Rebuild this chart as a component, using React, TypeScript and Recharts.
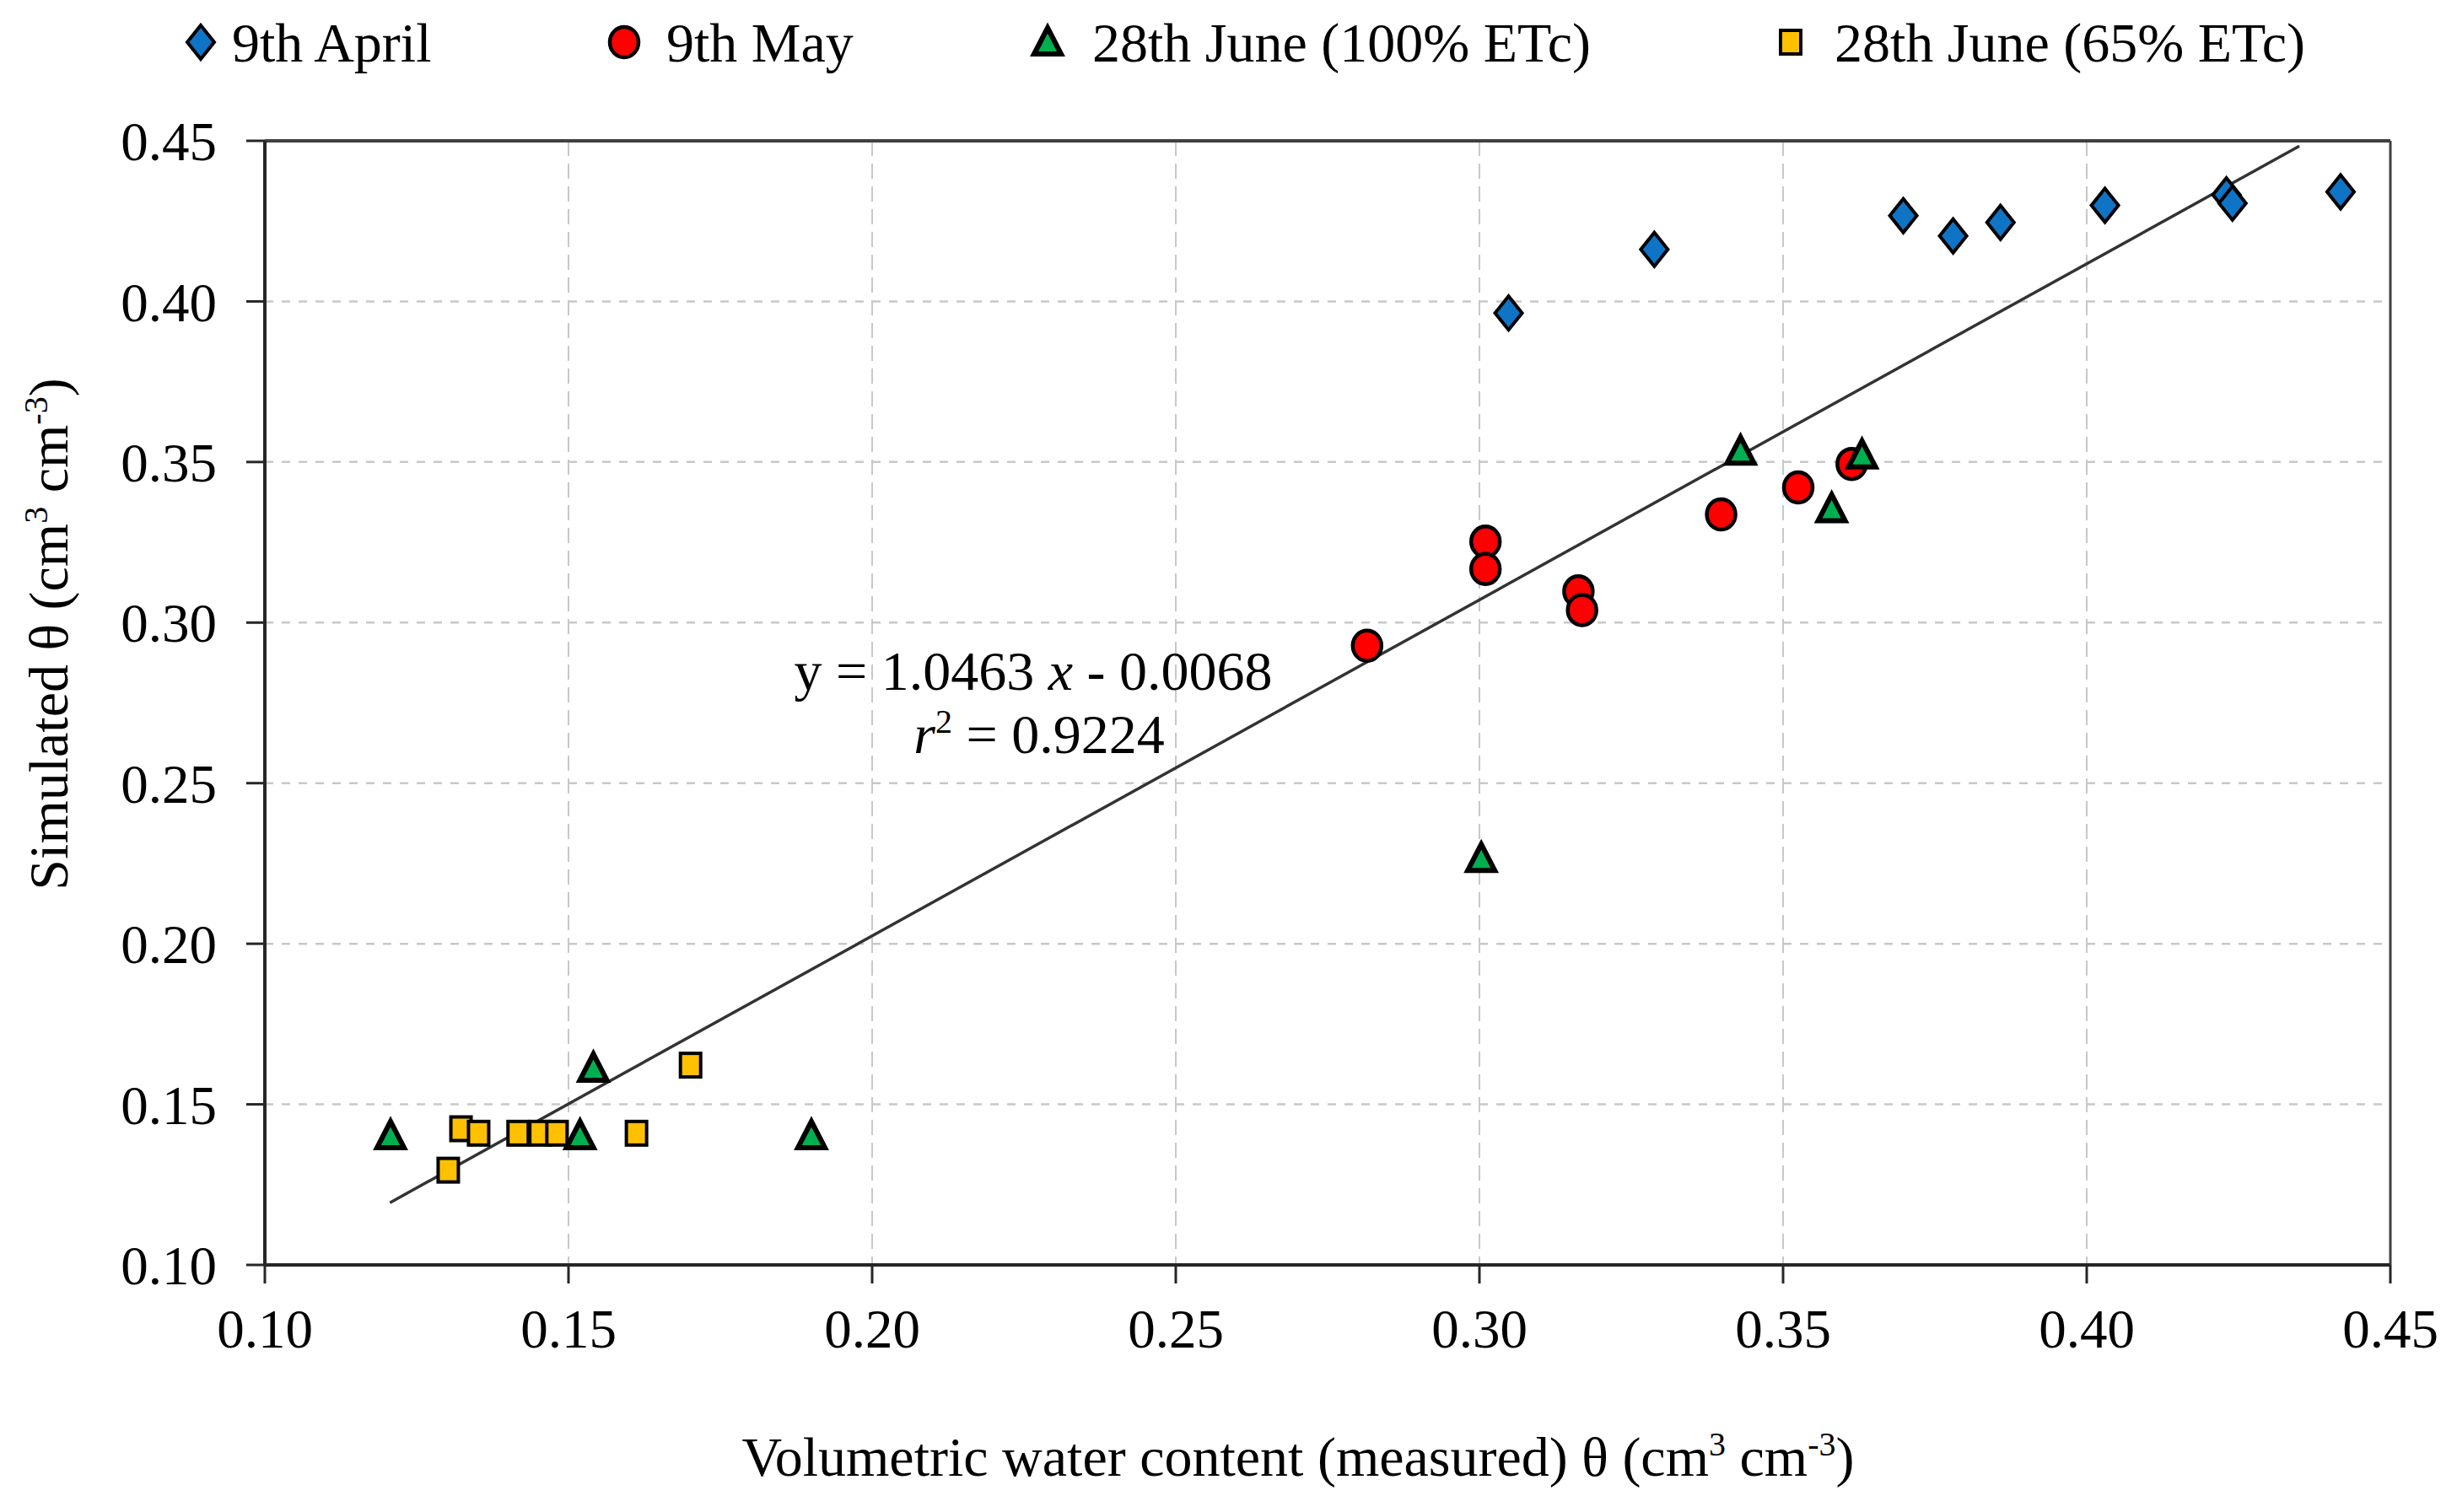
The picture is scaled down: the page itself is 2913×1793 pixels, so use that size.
import {
  ScatterChart,
  Scatter,
  XAxis,
  YAxis,
  CartesianGrid,
  ReferenceLine,
  Customized,
} from "recharts";

// 9th April
const APRIL_X = [0.3048, 0.3288, 0.3698, 0.378, 0.3858, 0.403, 0.423, 0.424, 0.4418];
const APRIL_Y = [0.3964, 0.4162, 0.4267, 0.4204, 0.4246, 0.4299, 0.4332, 0.4306, 0.4341];

// 9th May
const MAY_X = [0.2815, 0.301, 0.301, 0.3163, 0.3169, 0.3398, 0.3525, 0.3613];
const MAY_Y = [0.2928, 0.3252, 0.3167, 0.3097, 0.3039, 0.3337, 0.3421, 0.3494];

// 28th June (100% ETc)
const JUNE100_X = [0.1207, 0.1541, 0.1519, 0.19, 0.3003, 0.343, 0.358, 0.363];
const JUNE100_Y = [0.1402, 0.1612, 0.1402, 0.1402, 0.2265, 0.3533, 0.3354, 0.3521];

// 28th June (65% ETc)
const JUNE65_X = [0.1302, 0.1323, 0.1352, 0.1417, 0.1453, 0.1481, 0.1612, 0.1701];
const JUNE65_Y = [0.1295, 0.1424, 0.141, 0.141, 0.141, 0.141, 0.141, 0.1622];

const TICKS = [0.1, 0.15, 0.2, 0.25, 0.3, 0.35, 0.4, 0.45];

// fitted line, as printed on the chart
const SLOPE = 1.0463;
const INTERCEPT = -0.0068;
const R2 = 0.9224;
const TREND_X = [0.1206, 0.435];

const FONT = "'Liberation Serif', 'Times New Roman', serif";
const AXIS = "#262626";

const COLORS = {
  april: "#0F74C6",
  may: "#FF0000",
  june100: "#00B050",
  june65: "#FFC000",
};

const toPoints = (xs: number[], ys: number[]) => xs.map((x, i) => ({ x, y: ys[i] }));

const diamond = (cx: number, cy: number, fill: string) => (
  <path
    d={`M${cx},${cy - 20} L${cx + 16},${cy} L${cx},${cy + 20} L${cx - 16},${cy} Z`}
    fill={fill}
    stroke="#000"
    strokeWidth={4}
    strokeLinejoin="miter"
  />
);
const circle = (cx: number, cy: number, fill: string) => (
  <ellipse cx={cx} cy={cy} rx={17} ry={18} fill={fill} stroke="#000" strokeWidth={4.5} />
);
const triangle = (cx: number, cy: number, fill: string) => (
  <path
    d={`M${cx},${cy - 17} L${cx + 16},${cy + 14} L${cx - 16},${cy + 14} Z`}
    fill={fill}
    stroke="#000"
    strokeWidth={6}
    strokeLinejoin="miter"
  />
);
const square = (cx: number, cy: number, fill: string) => (
  <rect x={cx - 12} y={cy - 14} width={24} height={28} fill={fill} stroke="#000" strokeWidth={4} />
);

const makeShape = (draw: typeof circle, fill: string) => (props: any) =>
  draw(props.cx, props.cy, fill);

const LEGEND = [
  { name: "9th April", draw: diamond, fill: COLORS.april, mx: 230, tx: 267 },
  { name: "9th May", draw: circle, fill: COLORS.may, mx: 732, tx: 782 },
  { name: "28th June (100% ETc)", draw: triangle, fill: COLORS.june100, mx: 1234, tx: 1287 },
  { name: "28th June (65% ETc)", draw: square, fill: COLORS.june65, mx: 2115, tx: 2167 },
];

function Annotations() {
  return (
    <g fontFamily={FONT} fill="#000">
      {LEGEND.map(item => (
        <g key={item.name}>
          {item.draw(item.mx, 42, item.fill)}
          <text x={item.tx} y={65} fontSize={66}>
            {item.name}
          </text>
        </g>
      ))}

      <text x={1217} y={810} fontSize={66} textAnchor="middle">
        <tspan>{`y = ${SLOPE.toFixed(4)} `}</tspan>
        <tspan fontStyle="italic">x</tspan>
        <tspan>{` - ${Math.abs(INTERCEPT).toFixed(4)}`}</tspan>
      </text>
      <text x={1224} y={885} fontSize={66} textAnchor="middle">
        <tspan fontStyle="italic">r</tspan>
        <tspan dy={-24} fontSize={40}>2</tspan>
        <tspan dy={24}>{` = ${R2.toFixed(4)}`}</tspan>
      </text>

      <text x={1531} y={1742} fontSize={66} textAnchor="middle">
        <tspan>Volumetric water content (measured) θ (cm</tspan>
        <tspan dy={-24} fontSize={40}>3</tspan>
        <tspan dy={24}> cm</tspan>
        <tspan dy={-24} fontSize={40}>-3</tspan>
        <tspan dy={24}>)</tspan>
      </text>

      <text x={72} y={744} fontSize={66} textAnchor="middle" transform="rotate(-90, 72, 744)">
        <tspan>Simulated θ (cm</tspan>
        <tspan dy={-24} fontSize={40}>3</tspan>
        <tspan dy={24}> cm</tspan>
        <tspan dy={-24} fontSize={40}>-3</tspan>
        <tspan dy={24}>)</tspan>
      </text>
    </g>
  );
}

export default function App() {
  const trendStart = { x: TREND_X[0], y: SLOPE * TREND_X[0] + INTERCEPT };
  const trendEnd = { x: TREND_X[1], y: SLOPE * TREND_X[1] + INTERCEPT };
  const tickStyle = { fill: "#000", fontSize: 65, fontFamily: FONT };

  return (
    <ScatterChart
      width={2897}
      height={1777}
      margin={{ top: 159, right: 71, bottom: 85, left: 46 }}
      style={{ background: "#fff" }}
    >
      <CartesianGrid horizontal={false} stroke="#c8c8c8" strokeWidth={2} strokeDasharray="18 9" />
      <CartesianGrid vertical={false} stroke="#c8c8c8" strokeWidth={2.5} strokeDasharray="10 10" />
      <XAxis
        type="number"
        dataKey="x"
        domain={[0.1, 0.45]}
        ticks={TICKS}
        tickFormatter={(v: number) => v.toFixed(2)}
        height={200}
        tickSize={22}
        tickMargin={30}
        tick={tickStyle}
        axisLine={{ stroke: AXIS, strokeWidth: 4 }}
        tickLine={{ stroke: AXIS, strokeWidth: 3 }}
        allowDataOverflow
      />
      <YAxis
        type="number"
        dataKey="y"
        domain={[0.1, 0.45]}
        ticks={TICKS}
        tickFormatter={(v: number) => v.toFixed(2)}
        width={260}
        tickSize={22}
        tickMargin={35}
        tick={tickStyle}
        axisLine={{ stroke: AXIS, strokeWidth: 4 }}
        tickLine={{ stroke: AXIS, strokeWidth: 3 }}
        allowDataOverflow
      />
      <ReferenceLine y={0.45} stroke="#404040" strokeWidth={4} />
      <ReferenceLine x={0.45} stroke="#404040" strokeWidth={3} />

      <Scatter
        name="9th April"
        data={toPoints(APRIL_X, APRIL_Y)}
        shape={makeShape(diamond, COLORS.april)}
        isAnimationActive={false}
      />
      <Scatter
        name="9th May"
        data={toPoints(MAY_X, MAY_Y)}
        shape={makeShape(circle, COLORS.may)}
        isAnimationActive={false}
      />
      <Scatter
        name="28th June (100% ETc)"
        data={toPoints(JUNE100_X, JUNE100_Y)}
        shape={makeShape(triangle, COLORS.june100)}
        isAnimationActive={false}
      />
      <Scatter
        name="28th June (65% ETc)"
        data={toPoints(JUNE65_X, JUNE65_Y)}
        shape={makeShape(square, COLORS.june65)}
        isAnimationActive={false}
      />

      <ReferenceLine
        segment={[trendStart, trendEnd]}
        stroke="#333"
        strokeWidth={3.5}
        ifOverflow="visible"
      />

      <Customized component={Annotations} />
    </ScatterChart>
  );
}
